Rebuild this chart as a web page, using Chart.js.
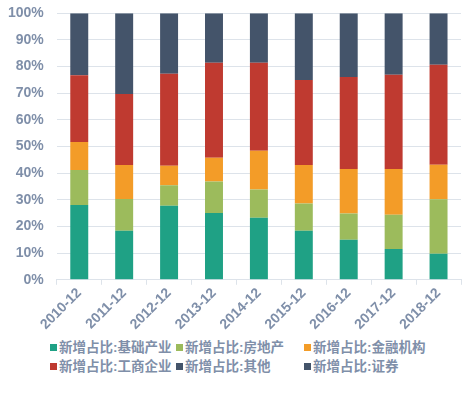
<!DOCTYPE html>
<html lang="zh">
  <head>
    <meta charset="UTF-8" />
    <title>新增占比</title>
    <script src="https://cdn.jsdelivr.net/npm/chart.js"></script>
    <style>
      html, body { margin: 0; padding: 0; background: #fff; }
      #wrap { position: relative; width: 476px; height: 398px; }
      #chart { position: absolute; left: 0; top: 0; }
      #legend {
        position: absolute; left: 50px; top: 338px; width: 420px;
        display: grid; grid-template-columns: 126px 128px 150px;
        font: bold 13.5px "Liberation Sans", "Noto Sans CJK SC", sans-serif; color: #7f8fa9;
      }
      #legend div { white-space: nowrap; height: 19px; line-height: 19px; }
      #legend span { display: inline-block; width: 7px; height: 7px; margin-right: 2px; vertical-align: 1px; }
    </style>
  </head>
  <body>
    <div id="wrap">
      <canvas id="chart" width="476" height="333"></canvas>
      <div id="legend"></div>
    </div>

    <script>
      const years = ["2010-12", "2011-12", "2012-12", "2013-12", "2014-12", "2015-12", "2016-12", "2017-12", "2018-12"];

      // share of new issuance, %
      const infra = [28.1, 18.4, 27.8, 25.1, 23.3, 18.4, 15.0, 11.6, 9.8];
      const realEstate = [13.1, 11.9, 7.7, 11.8, 10.6, 10.2, 9.9, 12.8, 20.4];
      const financial = [10.5, 12.8, 7.3, 8.9, 14.5, 14.5, 16.7, 17.2, 13.0];
      const commercial = [25.1, 26.6, 34.5, 35.6, 33.0, 31.9, 34.5, 35.3, 37.5];
      const other = [23.2, 30.3, 22.7, 18.6, 18.6, 25.0, 23.9, 23.1, 19.3];
      const securities = [0, 0, 0, 0, 0, 0, 0, 0, 0];

      const yTicks = [0, 10, 20, 30, 40, 50, 60, 70, 80, 90, 100];

      const textColor = "#7f8fa9";
      const gridColor = "#dde3ea";
      const font = { family: "'Liberation Sans', 'Noto Sans CJK SC', sans-serif", size: 14, weight: "bold" };

      const series = [
        { label: "新增占比:基础产业", data: infra, color: "#1fa185" },
        { label: "新增占比:房地产", data: realEstate, color: "#9cbb5c" },
        { label: "新增占比:金融机构", data: financial, color: "#f39c28" },
        { label: "新增占比:工商企业", data: commercial, color: "#bf3a30" },
        { label: "新增占比:其他", data: other, color: "#44546a" },
        { label: "新增占比:证券", data: securities, color: "#44546a" },
      ];

      new Chart(document.getElementById("chart"), {
        type: "bar",
        data: {
          labels: years,
          datasets: series.map((s) => ({
            label: s.label,
            data: s.data,
            backgroundColor: s.color,
            borderWidth: 0,
            categoryPercentage: 0.4,
            barPercentage: 1,
          })),
        },
        options: {
          responsive: false,
          animation: false,
          layout: { padding: { left: -5, right: 15, top: 0, bottom: 0 } },
          plugins: { legend: { display: false }, tooltip: { enabled: false } },
          scales: {
            x: {
              stacked: true,
              afterFit: (axis) => { axis.paddingLeft = 0; },
              grid: { drawOnChartArea: false, drawTicks: true, tickLength: 5, color: gridColor },
              border: { display: true, color: gridColor },
              ticks: { color: textColor, font: font, maxRotation: 45, minRotation: 45, autoSkip: false, padding: 0 },
            },
            y: {
              stacked: true,
              min: 0,
              max: 100,
              afterBuildTicks: (axis) => { axis.ticks = yTicks.map((v) => ({ value: v })); },
              afterFit: (axis) => { axis.paddingTop = 13.3; },
              grid: { color: gridColor, drawTicks: false },
              border: { display: false },
              ticks: { color: textColor, font: font, padding: 13, callback: (v) => v + "%" },
            },
          },
        },
      });

      const legend = document.getElementById("legend");
      series.forEach((s) => {
        const item = document.createElement("div");
        item.innerHTML = `<span style="background:${s.color}"></span>${s.label}`;
        legend.appendChild(item);
      });
    </script>
  </body>
</html>
